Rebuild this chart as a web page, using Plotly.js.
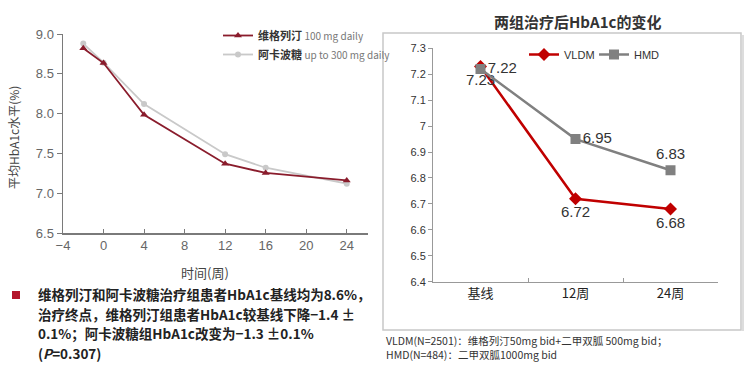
<!DOCTYPE html>
<html><head><meta charset="utf-8">
<script src="https://cdn.plot.ly/plotly-3.0.1.min.js"></script>
<style>html,body{margin:0;padding:0;background:#fff;}#c{width:744px;height:369px;}</style>
</head><body><div id="c"></div>
<script>
// Left chart data
const weeks = [-2, 0, 4, 12, 16, 24];
const vildagliptin = [8.82, 8.635, 7.985, 7.37, 7.255, 7.16];
const acarbose = [8.88, 8.64, 8.12, 7.49, 7.32, 7.12];
const leftXTicks = [-4, 0, 4, 8, 12, 16, 20, 24];
const leftYTicks = [6.5, 7.0, 7.5, 8.0, 8.5, 9.0];

// Right chart data
const periods = ['基线', '12周', '24周'];
const vldm = [7.23, 6.72, 6.68];
const hmd = [7.22, 6.95, 6.83];
const rightYTicks = [6.4, 6.5, 6.6, 6.7, 6.8, 6.9, 7, 7.1, 7.2, 7.3];

// Text blocks
const noteLines = [
  '维格列汀和阿卡波糖治疗组患者HbA1c基线均为8.6%，',
  '治疗终点，维格列汀组患者HbA1c较基线下降−1.4 ±',
  '0.1%；阿卡波糖组HbA1c改变为−1.3 ±0.1%',
  '(<i>P</i>=0.307)'
];
const footLines = [
  'VLDM(N=2501)：维格列汀50mg bid+二甲双胍 500mg bid；',
  'HMD(N=484)：二甲双胍1000mg bid'
];

const W = 744, H = 369;
const fx = p => p / W, fy = p => 1 - p / H;
const CJK = '"Noto Sans CJK SC", "Liberation Sans", sans-serif';
const LAT = '"Liberation Sans", "Noto Sans CJK SC", sans-serif';

const traces = [
  {x: weeks, y: acarbose, type: 'scatter', mode: 'lines+markers',
   name: '<b>阿卡波糖</b> <span style="font-size:10px;color:#777">up to 300 mg daily</span>',
   line: {color: '#c9c9c9', width: 1.8}, marker: {symbol: 'circle', size: 6, color: '#c9c9c9'},
   xaxis: 'x', yaxis: 'y', legend: 'legend', legendrank: 2},
  {x: weeks, y: vildagliptin, type: 'scatter', mode: 'lines+markers',
   name: '<b>维格列汀</b> <span style="font-size:10px;color:#777">100 mg daily</span>',
   line: {color: '#8a1c2c', width: 1.8}, marker: {symbol: 'triangle-up', size: 7, color: '#8a1c2c'},
   xaxis: 'x', yaxis: 'y', legend: 'legend', legendrank: 1},
  {x: periods, y: vldm, type: 'scatter', mode: 'lines+markers+text', name: 'VLDM',
   text: vldm.map(v => v.toFixed(2)),
   textposition: ['bottom center', 'bottom center', 'bottom center'],
   textfont: {family: LAT, size: 15, color: '#333'},
   line: {color: '#c00000', width: 2.5}, marker: {symbol: 'diamond', size: 10, color: '#c00000'},
   xaxis: 'x2', yaxis: 'y2', legend: 'legend2'},
  {x: periods, y: hmd, type: 'scatter', mode: 'lines+markers+text', name: 'HMD',
   text: hmd.map(v => v.toFixed(2)),
   textposition: ['middle right', 'middle right', 'top center'],
   textfont: {family: LAT, size: 15, color: '#333'},
   line: {color: '#808080', width: 2.5}, marker: {symbol: 'square', size: 10, color: '#808080'},
   xaxis: 'x2', yaxis: 'y2', legend: 'legend3'}
];

const noteY = [294, 313.5, 333, 352.5];
const footY = [340, 354];

const annotations = [
  {xref: 'paper', yref: 'paper', x: fx(13), y: fy(138), xanchor: 'center', yanchor: 'middle',
   text: '平均HbA1c水平(%)', textangle: -90,
   showarrow: false, font: {family: CJK, size: 12, color: '#444'}},
  {xref: 'paper', yref: 'paper', x: fx(205), y: fy(272), xanchor: 'center', yanchor: 'middle',
   text: '时间(周)', showarrow: false, font: {family: CJK, size: 13, color: '#444'}},
  {xref: 'paper', yref: 'paper', x: fx(577), y: fy(22), xanchor: 'center', yanchor: 'middle',
   text: '<b>两组治疗后HbA1c的变化</b>',
   showarrow: false, font: {family: CJK, size: 15, color: '#333'}}
];
noteLines.forEach((t, i) => annotations.push({
  xref: 'paper', yref: 'paper', x: fx(37), y: fy(noteY[i]), xanchor: 'left', yanchor: 'middle',
  borderpad: 0, text: '<b>' + t + '</b>', showarrow: false, font: {family: CJK, size: 13.5, color: '#222'}
}));
footLines.forEach((t, i) => annotations.push({
  xref: 'paper', yref: 'paper', x: fx(385), y: fy(footY[i]), xanchor: 'left', yanchor: 'middle',
  borderpad: 0, text: t, showarrow: false, font: {family: CJK, size: 10.5, color: '#333'}
}));

const layout = {
  width: W, height: H, margin: {l: 0, r: 0, t: 0, b: 0},
  paper_bgcolor: '#fff', plot_bgcolor: 'rgba(0,0,0,0)',
  font: {family: LAT, color: '#555'},
  xaxis: {domain: [fx(63), fx(368)], range: [-4, 26.1], tickvals: leftXTicks,
    showgrid: false, zeroline: false, showline: true, linecolor: '#7a7a7a', linewidth: 1.5,
    ticks: 'inside', ticklen: 4, tickcolor: '#7a7a7a', tickfont: {size: 13, color: '#666'}, anchor: 'y'},
  yaxis: {domain: [fy(233), fy(34)], range: [6.5, 9.0], tickvals: leftYTicks,
    tickformat: '.1f', showgrid: false, zeroline: false, showline: true, linecolor: '#7a7a7a', linewidth: 1.5,
    ticks: 'outside', ticklen: 5, tickcolor: '#7a7a7a', tickfont: {size: 13, color: '#666'}, anchor: 'x'},
  xaxis2: {domain: [fx(433), fx(718)], type: 'category', range: [-0.5, 2.5],
    showgrid: false, zeroline: false, showline: true, linecolor: '#999', linewidth: 1,
    ticks: 'inside', tickson: 'boundaries', ticklen: 4, tickcolor: '#999',
    tickfont: {family: CJK, size: 13, color: '#222'}, anchor: 'y2'},
  yaxis2: {domain: [fy(281.7), fy(48.3)], range: [6.4, 7.3], tickvals: rightYTicks,
    showgrid: false, zeroline: false, showline: true, linecolor: '#999', linewidth: 1,
    ticks: 'outside', ticklen: 4, tickcolor: '#999', tickfont: {family: LAT, size: 11, color: '#333'}, anchor: 'x2'},
  showlegend: true,
  legend: {x: fx(218), y: fy(21), xanchor: 'left', yanchor: 'top', bgcolor: 'rgba(0,0,0,0)',
    font: {family: CJK, size: 11, color: '#333'}, tracegroupgap: 0, itemwidth: 30},
  legend2: {x: fx(524), y: fy(40), xanchor: 'left', yanchor: 'top', orientation: 'h', bgcolor: 'rgba(0,0,0,0)',
    font: {family: LAT, size: 11, color: '#333'}, itemwidth: 30},
  legend3: {x: fx(594), y: fy(40), xanchor: 'left', yanchor: 'top', orientation: 'h', bgcolor: 'rgba(0,0,0,0)',
    font: {family: LAT, size: 11, color: '#333'}, itemwidth: 30},
  shapes: [
    {type: 'rect', xref: 'paper', yref: 'paper', x0: fx(383), x1: fx(741), y0: fy(330), y1: fy(33),
     line: {color: '#c8c8c8', width: 1.5}, fillcolor: 'rgba(0,0,0,0)'},
    {type: 'line', xref: 'paper', yref: 'paper', x0: fx(743), x1: fx(743), y0: fy(331), y1: fy(35),
     line: {color: '#dddddd', width: 2}},
    {type: 'rect', xref: 'paper', yref: 'paper', x0: fx(12), x1: fx(20), y0: fy(299), y1: fy(291),
     line: {width: 0}, fillcolor: '#b3152b'}
  ],
  annotations: annotations
};

Plotly.newPlot('c', traces, layout, {displayModeBar: false, staticPlot: true});
</script></body></html>
